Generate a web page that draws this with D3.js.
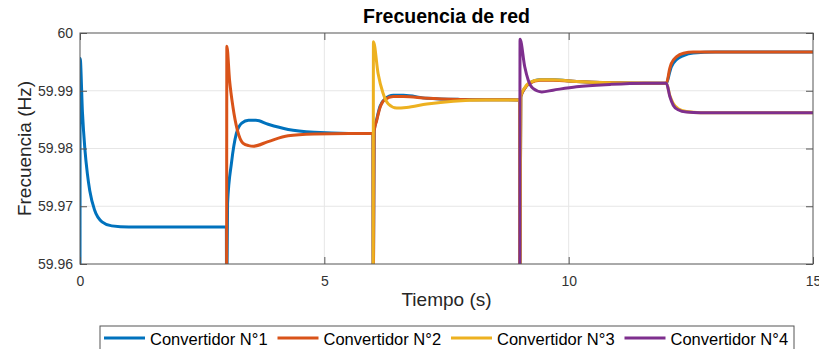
<!DOCTYPE html>
<html>
<head>
<meta charset="utf-8">
<script src="https://cdn.jsdelivr.net/npm/d3@7"></script>
<style>
  html, body { margin: 0; padding: 0; background: #fff; }
  svg { display: block; font-family: "Liberation Sans", Arial, sans-serif; }
</style>
</head>
<body>
<div id="chart"></div>
<script>
// series: [tiempo (s), frecuencia (Hz)]
var conv1 = [[0, 59.95], [0.003, 59.9956], [0.05, 59.9863], [0.1, 59.9799], [0.15, 59.9757], [0.2, 59.9727],
  [0.3, 59.9693], [0.45, 59.9673], [0.65, 59.9666], [1.0, 59.9664], [2.995, 59.9664], [3.0, 59.95],
  [3.02, 59.9705], [3.1, 59.9775], [3.2, 59.9826], [3.31, 59.9844], [3.45, 59.9849], [3.6, 59.9849],
  [3.85, 59.9842], [4.26, 59.9833], [4.8, 59.9828], [5.5, 59.9826], [5.995, 59.9826], [6.0, 59.95],
  [6.02, 59.9831], [6.07, 59.9850], [6.14, 59.9873], [6.24, 59.9886], [6.41, 59.9892], [6.62, 59.9892],
  [7.1, 59.9887], [7.78, 59.9885], [8.995, 59.9884], [9.0, 59.95], [9.02, 59.9890], [9.1, 59.9904],
  [9.2, 59.9913], [9.41, 59.9919], [9.68, 59.9919], [10.16, 59.9916], [10.85, 59.9914], [12.0, 59.9913],
  [12.07, 59.9933], [12.1, 59.9941], [12.21, 59.9954], [12.35, 59.9961], [12.55, 59.99655], [13.0, 59.9967],
  [15, 59.9967]];

var conv2 = [[3.0, 59.95], [3.005, 59.9977], [3.06, 59.9919], [3.13, 59.9872], [3.22, 59.9832], [3.34, 59.9809],
  [3.45, 59.9805], [3.55, 59.9804], [3.85, 59.9812], [4.26, 59.9822], [4.8, 59.9825], [5.5, 59.9826],
  [5.995, 59.9826], [6.0, 59.95], [6.02, 59.9830], [6.07, 59.9848], [6.14, 59.9871], [6.24, 59.9885],
  [6.41, 59.9890], [6.62, 59.9890], [7.1, 59.9887], [7.78, 59.9885], [8.995, 59.9884], [9.0, 59.95],
  [9.02, 59.9890], [9.1, 59.9904], [9.2, 59.9913], [9.41, 59.9918], [9.68, 59.9918], [10.16, 59.9916],
  [10.85, 59.9914], [12.0, 59.9913], [12.07, 59.9939], [12.1, 59.9947], [12.21, 59.9959], [12.35, 59.9965],
  [12.55, 59.9967], [13.0, 59.9967], [15, 59.9967]];

var conv3 = [[6.0, 59.95], [6.005, 59.9985], [6.1, 59.9930], [6.2, 59.9896], [6.31, 59.9877], [6.48, 59.9870],
  [6.68, 59.9871], [7.1, 59.9877], [7.64, 59.9882], [8.3, 59.9884], [8.995, 59.9884], [9.0, 59.95],
  [9.02, 59.9891], [9.1, 59.9905], [9.2, 59.9914], [9.41, 59.9919], [9.68, 59.9919], [10.16, 59.9916],
  [10.85, 59.9914], [12.0, 59.9913], [12.07, 59.9892], [12.14, 59.9878], [12.24, 59.9869], [12.41, 59.9864],
  [12.7, 59.9862], [13.2, 59.9862], [15, 59.9862]];

var conv4 = [[9.0, 59.95], [9.005, 59.9989], [9.1, 59.9942], [9.17, 59.9919], [9.27, 59.9904], [9.45, 59.9898],
  [9.68, 59.9901], [10.16, 59.9907], [10.85, 59.9911], [11.53, 59.9913], [12.0, 59.9913], [12.07, 59.9890],
  [12.14, 59.9875], [12.24, 59.9867], [12.41, 59.9863], [12.7, 59.9862], [15, 59.9862]];

var seriesNames = ["Convertidor N°1", "Convertidor N°2", "Convertidor N°3", "Convertidor N°4"];
var seriesColors = ["#0072BD", "#D95319", "#EDB120", "#7E2F8E"];
var xTicks = [0, 5, 10, 15];
var yTicks = [59.96, 59.97, 59.98, 59.99, 60];

var outerWidth = 819, outerHeight = 349;
var margin = {top: 33, right: 6, bottom: 85, left: 80};
var width = outerWidth - margin.left - margin.right,
    height = outerHeight - margin.top - margin.bottom;

var svg = d3.select("#chart").append("svg")
    .attr("width", outerWidth)
    .attr("height", outerHeight);

var g = svg.append("g")
    .attr("transform", "translate(" + margin.left + "," + margin.top + ")");

g.append("clipPath").attr("id", "clip")
    .append("rect").attr("width", width).attr("height", height);

var x = d3.scaleLinear().domain([0, 15]).range([0, width]);
var y = d3.scaleLinear().domain([59.96, 60]).range([height, 0]);

// grid
g.append("g").selectAll("line")
    .data(yTicks.slice(1, -1)).enter().append("line")
    .attr("x1", 0).attr("x2", width)
    .attr("y1", function(d) { return y(d); }).attr("y2", function(d) { return y(d); })
    .style("stroke", "#e6e6e6").style("stroke-width", 1);
g.append("g").selectAll("line")
    .data(xTicks.slice(1, -1)).enter().append("line")
    .attr("y1", 0).attr("y2", height)
    .attr("x1", function(d) { return x(d); }).attr("x2", function(d) { return x(d); })
    .style("stroke", "#e6e6e6").style("stroke-width", 1);

// lines
var line = d3.line()
    .x(function(d) { return x(d[0]); })
    .y(function(d) { return y(d[1]); })
    .curve(d3.curveMonotoneX);

[conv1, conv2, conv3, conv4].forEach(function(s, i) {
    g.append("path")
        .attr("clip-path", "url(#clip)")
        .attr("d", line(s))
        .style("fill", "none")
        .style("stroke", seriesColors[i])
        .style("stroke-width", 3)
        .style("stroke-linejoin", "round");
});

// axes (MATLAB-like: ticks inward, box around)
var xAxis = d3.axisBottom(x).tickValues(xTicks).tickSize(-7).tickPadding(12).tickFormat(d3.format("d"));
var yAxis = d3.axisLeft(y).tickValues(yTicks).tickSize(-7).tickPadding(7).tickFormat(function(d) { return d === 60 ? "60" : d3.format(".2f")(d); });

var xAxisGroup = g.append("g").attr("transform", "translate(0," + height + ")").call(xAxis);
var yAxisGroup = g.append("g").call(yAxis);
g.append("g").call(d3.axisTop(x).tickValues(xTicks).tickSize(-7).tickFormat(""));
g.append("g").attr("transform", "translate(" + width + ",0)")
    .call(d3.axisRight(y).tickValues(yTicks).tickSize(-7).tickFormat(""));

g.selectAll(".domain").remove();
g.selectAll(".tick line").style("stroke", "#555");
g.selectAll(".tick text").style("font-family", "'Liberation Sans', Arial, sans-serif")
    .style("font-size", "14px").style("fill", "#333");

g.append("rect")
    .attr("width", width).attr("height", height)
    .style("fill", "none").style("stroke", "#555").style("stroke-width", 1);

// title and labels
svg.append("text")
    .attr("x", margin.left + width / 2).attr("y", 23)
    .attr("text-anchor", "middle")
    .style("font-weight", "bold").style("font-size", "19.5px").style("fill", "#000")
    .text("Frecuencia de red");

svg.append("text")
    .attr("x", margin.left + width / 2).attr("y", 306)
    .attr("text-anchor", "middle")
    .style("font-size", "19px").style("fill", "#262626")
    .text("Tiempo (s)");

svg.append("text")
    .attr("transform", "translate(31," + (margin.top + height / 2) + ") rotate(-90)")
    .attr("text-anchor", "middle")
    .style("font-size", "19px").style("fill", "#262626")
    .text("Frecuencia (Hz)");

// legend
var legend = svg.append("g").attr("transform", "translate(100,326)");
legend.append("rect")
    .attr("width", 694).attr("height", 40)
    .style("fill", "#fff").style("stroke", "#555").style("stroke-width", 1);

var items = legend.selectAll(".item").data(seriesNames).enter().append("g")
    .attr("transform", function(d, i) { return "translate(" + (4 + i * 173.5) + ",0)"; });
items.append("line")
    .attr("x1", 0).attr("x2", 41).attr("y1", 12).attr("y2", 12)
    .style("stroke", function(d, i) { return seriesColors[i]; })
    .style("stroke-width", 3);
items.append("text")
    .attr("x", 46).attr("y", 19)
    .style("font-size", "16.5px").style("fill", "#000")
    .text(function(d) { return d; });
</script>
</body>
</html>
